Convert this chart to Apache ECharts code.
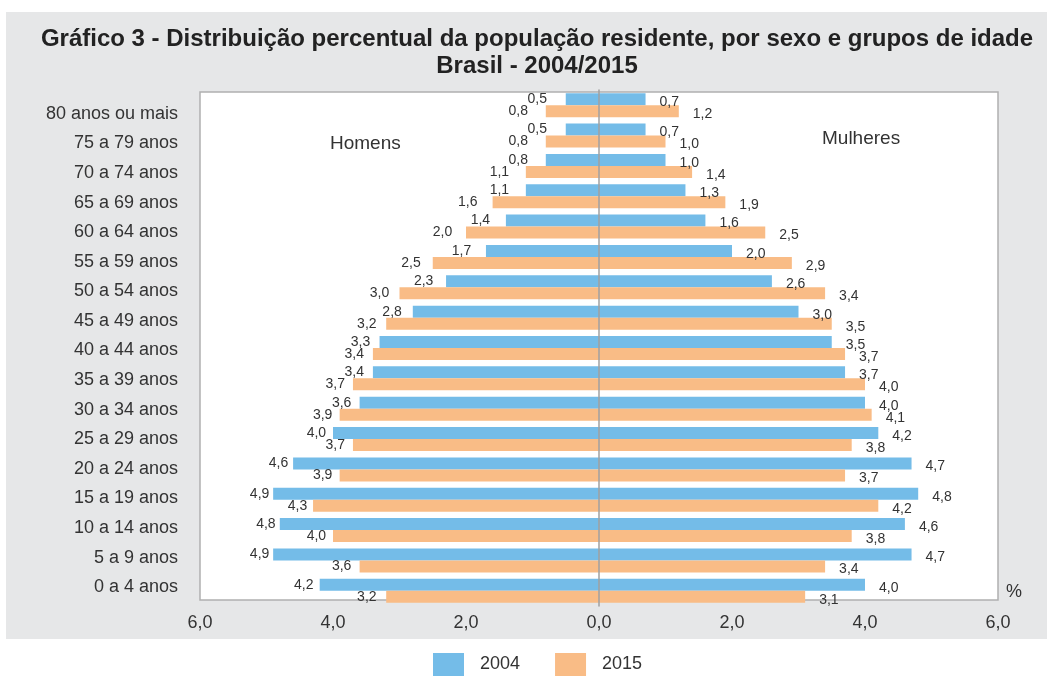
<!DOCTYPE html>
<html>
<head>
<meta charset="utf-8">
<script src="https://cdn.jsdelivr.net/npm/echarts@6/dist/echarts.min.js"></script>
<style>
html, body { margin: 0; padding: 0; background: #fff; }
#chart { width: 1054px; height: 677px; }
</style>
</head>
<body>
<div id="chart"></div>
<script>
// faixas etarias, de cima para baixo
var faixas = ['80 anos ou mais', '75 a 79 anos', '70 a 74 anos', '65 a 69 anos', '60 a 64 anos',
    '55 a 59 anos', '50 a 54 anos', '45 a 49 anos', '40 a 44 anos', '35 a 39 anos', '30 a 34 anos',
    '25 a 29 anos', '20 a 24 anos', '15 a 19 anos', '10 a 14 anos', '5 a 9 anos', '0 a 4 anos'];

var homens2004 = [0.5, 0.5, 0.8, 1.1, 1.4, 1.7, 2.3, 2.8, 3.3, 3.4, 3.6, 4.0, 4.6, 4.9, 4.8, 4.9, 4.2];
var homens2015 = [0.8, 0.8, 1.1, 1.6, 2.0, 2.5, 3.0, 3.2, 3.4, 3.7, 3.9, 3.7, 3.9, 4.3, 4.0, 3.6, 3.2];
var mulheres2004 = [0.7, 0.7, 1.0, 1.3, 1.6, 2.0, 2.6, 3.0, 3.5, 3.7, 4.0, 4.2, 4.7, 4.8, 4.6, 4.7, 4.0];
var mulheres2015 = [1.2, 1.0, 1.4, 1.9, 2.5, 2.9, 3.4, 3.5, 3.7, 4.0, 4.1, 3.8, 3.7, 4.2, 3.8, 3.4, 3.1];

var xTicks = [-6, -4, -2, 0, 2, 4, 6];

var azul = '#74bce8';
var laranja = '#f9bc86';
var fonte = "'Liberation Sans', Arial, sans-serif";

function fmt(v) {
    return Math.abs(v).toFixed(1).replace('.', ',');
}

// homens ficam do lado esquerdo (valores negativos)
function ladoEsq(arr) {
    return arr.map(function (v) {
        return {
            value: -v,
            label: { distance: Math.max(3, 20.5 - 3.4 * v) }
        };
    });
}

var myChart = echarts.init(document.getElementById('chart'));

var labelEsq = {
    show: true,
    position: 'left',
    fontSize: 14,
    fontFamily: fonte,
    color: '#333',
    formatter: function (p) { return fmt(p.value); }
};
var labelDir = {
    show: true,
    position: 'right',
    distance: 14,
    offset: [0, 3],
    fontSize: 14,
    fontFamily: fonte,
    color: '#333',
    formatter: function (p) { return fmt(p.value); }
};

option = {
    animation: false,
    title: {
        text: 'Gráfico 3 - Distribuição percentual da população residente, por sexo e grupos de idade\nBrasil - 2004/2015',
        left: 532,
        top: 21,
        textAlign: 'center',
        textStyle: {
            fontFamily: fonte,
            fontWeight: 'bold',
            fontSize: 24,
            lineHeight: 27,
            color: '#222'
        }
    },
    legend: {
        data: ['2004', '2015'],
        top: 648,
        left: 428,
        itemWidth: 31,
        itemHeight: 23,
        itemGap: 35,
        icon: 'rect',
        textStyle: {
            fontFamily: fonte,
            fontSize: 18,
            color: '#333',
            padding: [0, 0, 0, 11]
        }
    },
    graphic: [
        {
            type: 'rect',
            z: -2,
            silent: true,
            shape: { x: 6, y: 12, width: 1041, height: 627 },
            style: { fill: '#e6e7e8' }
        },
        {
            type: 'rect',
            z: -1,
            silent: true,
            shape: { x: 200, y: 92, width: 798, height: 508 },
            style: { fill: '#fff', stroke: '#b0b0b0', lineWidth: 1.5 }
        },
        {
            type: 'text',
            left: 330,
            top: 134,
            style: { text: 'Homens', fontFamily: fonte, fontSize: 19, fill: '#333' }
        },
        {
            type: 'text',
            left: 822,
            top: 129,
            style: { text: 'Mulheres', fontFamily: fonte, fontSize: 19, fill: '#333' }
        },
        {
            type: 'text',
            left: 1006,
            top: 583,
            style: { text: '%', fontFamily: fonte, fontSize: 18, fill: '#333' }
        }
    ],
    grid: [
        { left: 200, width: 798, top: 90, height: 516, show: false },
        { left: 200, width: 798, top: 99, height: 503, show: false }
    ],
    xAxis: [
        {
            gridIndex: 0,
            type: 'value',
            min: xTicks[0],
            max: xTicks[xTicks.length - 1],
            interval: 2,
            splitLine: { show: false },
            axisLine: { show: false },
            axisTick: { show: false },
            axisLabel: {
                margin: 8,
                fontSize: 18,
                fontFamily: fonte,
                color: '#333',
                formatter: function (v) { return fmt(v); }
            }
        },
        {
            gridIndex: 1,
            type: 'value',
            min: -6,
            max: 6,
            show: false
        }
    ],
    yAxis: [
        {
            gridIndex: 0,
            type: 'category',
            data: faixas,
            inverse: true,
            axisTick: { show: false },
            axisLabel: { show: false },
            axisLine: { show: true, onZero: true, lineStyle: { color: '#a0a0a0', width: 1.5 } },
            z: 5
        },
        {
            gridIndex: 1,
            type: 'category',
            data: faixas,
            inverse: true,
            axisTick: { show: false },
            axisLine: { show: false },
            axisLabel: {
                margin: 22,
                fontSize: 18,
                fontFamily: fonte,
                color: '#333'
            }
        }
    ],
    series: [
        {
            name: '2004', type: 'bar', stack: 'a', barWidth: 12, barGap: '0%',
            itemStyle: { color: azul }, label: labelEsq,
            data: ladoEsq(homens2004)
        },
        {
            name: '2004', type: 'bar', stack: 'a', barWidth: 12, barGap: '0%',
            itemStyle: { color: azul }, label: labelDir,
            data: mulheres2004
        },
        {
            name: '2015', type: 'bar', stack: 'b', barWidth: 12, barGap: '0%',
            itemStyle: { color: laranja }, label: labelEsq,
            data: ladoEsq(homens2015)
        },
        {
            name: '2015', type: 'bar', stack: 'b', barWidth: 12, barGap: '0%',
            itemStyle: { color: laranja }, label: labelDir,
            data: mulheres2015
        }
    ]
};

myChart.setOption(option);
</script>
</body>
</html>
